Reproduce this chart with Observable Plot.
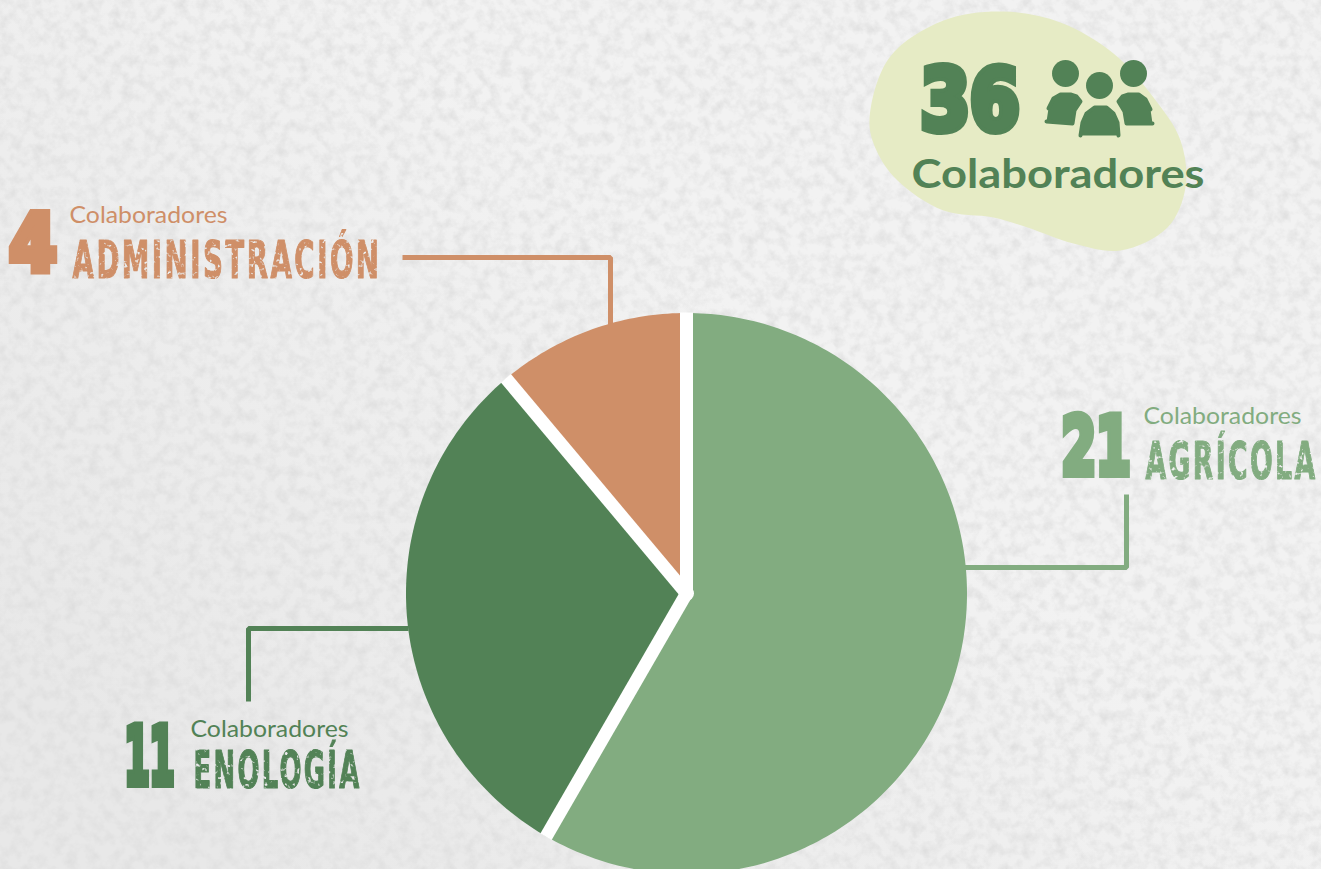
<!DOCTYPE html>
<html lang="es">
<head>
<meta charset="utf-8">
<script src="https://cdn.jsdelivr.net/npm/d3@7"></script>
<script src="https://cdn.jsdelivr.net/npm/@observablehq/plot@0.6"></script>
<style>
html,body{margin:0;padding:0;width:1321px;height:869px;overflow:hidden;background:#eeeeee}
#paper{position:absolute;left:0;top:0;width:1321px;height:869px}
#chart{position:absolute;left:0;top:0}
#chart svg{background:transparent;display:block}
</style>
</head>
<body>
<svg id="paper" xmlns="http://www.w3.org/2000/svg" aria-hidden="true">
  <defs>
    <filter id="mottle" x="0" y="0" width="100%" height="100%" color-interpolation-filters="sRGB">
      <feTurbulence type="fractalNoise" baseFrequency="0.09" numOctaves="5" seed="7"/>
      <feColorMatrix type="matrix" values="0 0 0 0 0.86  0 0 0 0 0.86  0 0 0 0 0.86  1.5 0 0 0 -0.58"/>
    </filter>
    <filter id="worn" x="-2%" y="-2%" width="104%" height="104%" color-interpolation-filters="sRGB">
      <feTurbulence type="fractalNoise" baseFrequency="0.25" numOctaves="3" seed="11" result="n"/>
      <feColorMatrix in="n" type="matrix" values="0 0 0 0 1  0 0 0 0 1  0 0 0 0 1  -6 0 0 0 4.7" result="m"/>
      <feComposite in="SourceGraphic" in2="m" operator="in"/>
    </filter>
    <linearGradient id="shade" x1="1" y1="0" x2="0" y2="0.75">
      <stop offset="0.45" stop-color="#d9d9d9" stop-opacity="0"/>
      <stop offset="1" stop-color="#d9d9d9" stop-opacity="0.4"/>
    </linearGradient>
  </defs>
  <rect width="1321" height="869" fill="#f2f2f2"/>
  <rect width="1321" height="869" fill="url(#shade)"/>
  <rect width="1321" height="869" filter="url(#mottle)"/>
</svg>
<div id="chart"></div>
<script>
// Data
const categories = ["Agrícola", "Enología", "Administración"];
const values = [21, 11, 4];
const colors = ["#82ac80", "#528256", "#cf8f68"];
const total = "36";
const subtitle = "Colaboradores";

// Annotation layout, in page pixels
const pieCenter = {x: 686, y: 593};
const pieRadius = 280.5;
const gap = 13;
const leaderPaths = [
  {c: "Agrícola", pts: [[962,567],[1126,567],[1126,494]]},
  {c: "Enología", pts: [[408,628],[248,628],[248,701]]},
  {c: "Administración", pts: [[402,257],[610,257],[610,325]]}
];
const numberLabels = [
  {c: "Agrícola", text: "21", x: 1061, y: 473, w: 69, size: 81},
  {c: "Enología", text: "11", x: 124, y: 783, w: 50, size: 80},
  {c: "Administración", text: "4", x: 9, y: 269, w: 47, size: 79}
];
const captionLabels = [
  {c: "Agrícola", x: 1143, y: 423, w: 158},
  {c: "Enología", x: 190, y: 736, w: 158},
  {c: "Administración", x: 69, y: 222, w: 158}
];
const nameLabels = [
  {c: "Agrícola", text: "AGRÍCOLA", x: 1145, y: 478, w: 172},
  {c: "Enología", text: "ENOLOGÍA", x: 193, y: 787, w: 168},
  {c: "Administración", text: "ADMINISTRACIÓN", x: 72, y: 277, w: 309}
];
const blobOutline = [
  [869,120],[889,57],[943,20],[1003,11],[1060,22],[1113,53],[1153,97],[1180,140],
  [1185,187],[1167,227],[1120,250],[1073,243],[1027,227],[993,217],[943,210],[897,180],[876,150]
];
const headDots = [[1065,73],[1099,85],[1133,73]];
const personBodies = [
  {id: "a", pts: [[1046,121],[1072,123],[1074,110],[1080,101],[1076,96],[1070,94],[1060,94],[1053,98],[1048,108]]},
  {id: "b", pts: [[1080,135],[1082,122],[1086,113],[1094,107],[1106,107],[1113,113],[1117,122],[1118,135]]},
  {id: "c", pts: [[1152,123],[1126,123],[1124,111],[1118,101],[1122,96],[1128,94],[1138,94],[1145,99],[1150,109]]}
];

// Pie geometry derived from the values
const arcs = d3.pie().sort(null).value(d => d)(values);
const polar = (a, r = pieRadius) => [pieCenter.x + r * Math.sin(a), pieCenter.y - r * Math.cos(a)];
const sliceRows = arcs.flatMap((s, i) => {
  const n = Math.ceil((s.endAngle - s.startAngle) / (Math.PI / 180));
  const edge = d3.range(n + 1).map(k => polar(s.startAngle + (s.endAngle - s.startAngle) * k / n));
  return [[pieCenter.x, pieCenter.y], ...edge, [pieCenter.x, pieCenter.y]]
    .map(([x, y]) => ({x, y, c: categories[i]}));
});
const gapRows = arcs.map(s => {
  const [x2, y2] = polar(s.startAngle, pieRadius + 0.5);
  return {x1: pieCenter.x, y1: pieCenter.y, x2, y2};
});
const leaderRows = leaderPaths.flatMap(l => l.pts.map(([x, y]) => ({x, y, c: l.c})));
const blobRows = blobOutline.map(([x, y]) => ({x, y}));
const headRows = headDots.map(([x, y]) => ({x, y}));
const bodyRows = personBodies.flatMap(b => b.pts.map(([x, y]) => ({x, y, id: b.id})));

// Fit a text mark to a measured width
const fit = (rows, worn) => (index, scales, vals, dim, ctx, next) => {
  const g = next(index, scales, vals, dim, ctx);
  d3.select(g).selectAll("text").each(function(_, k) {
    this.setAttribute("textLength", rows[index[k]].w);
    this.setAttribute("lengthAdjust", "spacingAndGlyphs");
  });
  if (worn) {
    g.setAttribute("filter", "url(#worn)");
    g.style.letterSpacing = "0.08em";
  }
  return g;
};

const displayFont = "'Liberation Sans Narrow','DejaVu Sans Condensed',sans-serif";
const chart = Plot.plot({
  width: 1321,
  height: 869,
  margin: 0,
  x: {domain: [0, 1321], range: [0, 1321], axis: null},
  y: {domain: [0, 869], range: [0, 869], axis: null},
  color: {domain: categories, range: colors},
  style: {background: "transparent"},
  marks: [
    Plot.line(blobRows, {x: "x", y: "y", curve: "catmull-rom-closed", fill: "#e6ebc5", stroke: "none"}),
    Plot.line(leaderRows, {x: "x", y: "y", z: "c", stroke: "c", strokeWidth: 5, strokeLinejoin: "miter", strokeLinecap: "butt"}),
    Plot.line(sliceRows, {x: "x", y: "y", z: "c", fill: "c", stroke: "none"}),
    Plot.link(gapRows, {x1: "x1", y1: "y1", x2: "x2", y2: "y2", stroke: "#ffffff", strokeWidth: gap, strokeLinecap: "butt"}),
    Plot.dot([pieCenter], {x: "x", y: "y", r: gap / 2 + 1, fill: "#ffffff"}),
    // Headline
    Plot.text([{text: total, x: 920, y: 129, w: 99}], {
      x: "x", y: "y", text: "text", textAnchor: "start", lineAnchor: "bottom",
      fontFamily: displayFont, fontWeight: 700, fontSize: 85,
      fill: "#528256", stroke: "#528256", strokeWidth: 8, strokeLinejoin: "miter",
      render: fit([{w: 99}])
    }),
    Plot.dot(headRows, {x: "x", y: "y", r: 13.5, fill: "#528256"}),
    Plot.line(bodyRows, {x: "x", y: "y", z: "id", fill: "#528256", stroke: "#528256", strokeWidth: 4, strokeLinejoin: "round"}),
    Plot.text([{text: subtitle, x: 911, y: 187, w: 293}], {
      x: "x", y: "y", text: "text", textAnchor: "start", lineAnchor: "bottom",
      fontFamily: "Lato,sans-serif", fontWeight: 700, fontSize: 41, fill: "#528256",
      render: fit([{w: 293}])
    }),
    // Slice labels
    Plot.text(numberLabels, {
      x: "x", y: "y", text: "text", fill: "c", stroke: "c", strokeWidth: 8, strokeLinejoin: "miter", textAnchor: "start", lineAnchor: "bottom",
      fontFamily: displayFont, fontWeight: 700, fontSize: "size",
      render: fit(numberLabels)
    }),
    Plot.text(captionLabels, {
      x: "x", y: "y", text: () => subtitle, fill: "c", textAnchor: "start", lineAnchor: "bottom",
      fontFamily: "Lato,sans-serif", fontWeight: 400, fontSize: 23,
      render: fit(captionLabels)
    }),
    Plot.text(nameLabels, {
      x: "x", y: "y", text: "text", fill: "c", stroke: "c", strokeWidth: 1.2, textAnchor: "start", lineAnchor: "bottom",
      fontFamily: displayFont, fontWeight: 700, fontSize: 51,
      render: fit(nameLabels, true)
    })
  ]
});
document.getElementById("chart").append(chart);
</script>
</body>
</html>
